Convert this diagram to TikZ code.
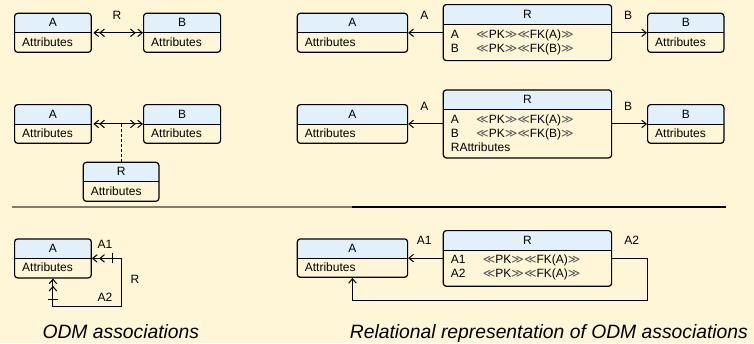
\documentclass[tikz,border=0pt]{standalone}
\usepackage{fontspec}
\setmainfont{Liberation Sans}
\newfontfamily\dvs{DejaVu Sans}
\usetikzlibrary{arrows.meta,calc}
\definecolor{bgc}{HTML}{FFF5D7}
\definecolor{hdc}{HTML}{E1F0FA}
\definecolor{sepg}{HTML}{807B6D}
\newcommand\lgg{{\dvs\color{black!65}\char"226A}}
\newcommand\rgg{{\dvs\color{black!65}\char"226B}}
\newcommand\pkfk[1]{\lgg PK\rgg\lgg FK(#1)\rgg}
\begin{document}
\begin{tikzpicture}[x=1pt,y=-1pt,
  box/.style={draw, line width=1.2pt, rounded corners=3pt, fill=bgc, inner sep=0pt,
    anchor=north west,
    path picture={\fill[hdc] ([yshift=-19.5pt]path picture bounding box.north west) rectangle (path picture bounding box.north east);
      \draw[line width=1.2pt] ([yshift=-19.5pt]path picture bounding box.north west) -- ([yshift=-19.5pt]path picture bounding box.north east);}},
  txt/.style={inner sep=0pt, font=\fontsize{12}{14}\selectfont, text height=8.6pt, text depth=0pt},
  bt/.style={txt, anchor=west},
  barb/.tip={Straight Barb[length=4.5pt,width=7.5pt,line width=1pt]},
  arr/.style={line width=1pt, -barb},
  dbl/.style={line width=1pt, {barb[sep=1.5pt]barb}-{barb[sep=1.5pt]barb}},
  selfa/.style={line width=1pt, -{Bar[width=10pt,sep=7pt]barb[sep=1.5pt]barb}},
  captxt/.style={inner sep=0pt, anchor=base, font=\fontsize{19.3}{22}\selectfont\itshape}
]
\fill[bgc] (0,0) rectangle (754,343);
\useasboundingbox (0,0) rectangle (754,343);

% ---------- left column ----------
% row 1
\node[box, minimum width=76.7pt, minimum height=39pt] (l1a) at (14,12.7) {};
\node[txt] at ([yshift=-9.75pt]l1a.north) {A};
\node[bt] at ([xshift=8pt,yshift=-29.3pt]l1a.north west) {Attributes};
\node[box, minimum width=77pt, minimum height=39pt] (l1b) at (143,12.7) {};
\node[txt] at ([yshift=-9.75pt]l1b.north) {B};
\node[bt] at ([xshift=8pt,yshift=-29.3pt]l1b.north west) {Attributes};
\draw[dbl] (l1a.east) -- (l1b.west);
\node[txt] (l1r) at (117,15) {R};

% row 2
\node[box, minimum width=76.7pt, minimum height=38.7pt] (l2a) at (14,104) {};
\node[txt] at ([yshift=-9.75pt]l2a.north) {A};
\node[bt] at ([xshift=8pt,yshift=-29.3pt]l2a.north west) {Attributes};
\node[box, minimum width=77pt, minimum height=38.7pt] (l2b) at (143,104) {};
\node[txt] at ([yshift=-9.75pt]l2b.north) {B};
\node[bt] at ([xshift=8pt,yshift=-29.3pt]l2b.north west) {Attributes};
\draw[dbl] (l2a.east) -- (l2b.west);
\node[box, minimum width=75.6pt, minimum height=39pt] (l2r) at (82.7,161.7) {};
\node[txt] at ([yshift=-9.75pt]l2r.north) {R};
\node[bt] at ([xshift=8pt,yshift=-29.3pt]l2r.north west) {Attributes};
\draw[line width=1pt, dash pattern=on 3pt off 2pt] (l2r.north) -- (l2r.north |- l2a.east);

% separator
\draw[line width=1.4pt, sepg] (11.5,207) -- (352,207);
\draw[line width=1.4pt] (352,207) -- (726,207);

% row 3
\node[box, minimum width=76.7pt, minimum height=39pt] (l3a) at (14,238.3) {};
\node[txt] at ([yshift=-9.75pt]l3a.north) {A};
\node[bt] at ([xshift=8pt,yshift=-29.3pt]l3a.north west) {Attributes};
\coordinate (l3m) at ($(l3a.south)+(34,27.7)$);
\draw[selfa] (l3m) -| (l3a.south);
\draw[selfa] (l3m) -| ($(l3a.east)+(30,0)$) -- (l3a.east);
\node[txt] at (105,244) {A1};
\node[txt] at (135,279) {R};
\node[txt] at (105,296.7) {A2};

\node[captxt] at (120.8,338.5) {ODM associations};

% ---------- right column ----------
% row 1
\node[box, minimum width=110.3pt, minimum height=39pt] (r1a) at (296.7,12.7) {};
\node[txt] at ([yshift=-9.75pt]r1a.north) {A};
\node[bt] at ([xshift=8pt,yshift=-29.3pt]r1a.north west) {Attributes};
\node[box, minimum width=168.3pt, minimum height=56pt] (r1r) at (442.7,4) {};
\node[txt] at ([yshift=-9.75pt]r1r.north) {R};
\node[bt] at ([xshift=8pt,yshift=-30pt]r1r.north west) {A};
\node[bt] at ([xshift=33.3pt,yshift=-30pt]r1r.north west) {\pkfk{A}};
\node[bt] at ([xshift=8pt,yshift=-43.9pt]r1r.north west) {B};
\node[bt] at ([xshift=33.3pt,yshift=-43.9pt]r1r.north west) {\pkfk{B}};
\node[box, minimum width=76.3pt, minimum height=39pt] (r1b) at (647,12.7) {};
\node[txt] at ([yshift=-9.75pt]r1b.north) {B};
\node[bt] at ([xshift=8pt,yshift=-29.3pt]r1b.north west) {Attributes};
\draw[arr] (r1r.west |- r1a.east) -- (r1a.east);
\draw[arr] (r1r.east |- r1b.west) -- (r1b.west);
\node[txt] at (424.3,15) {A};
\node[txt] at (628,15) {B};

% row 2
\node[box, minimum width=110.3pt, minimum height=38.7pt] (r2a) at (296.7,104) {};
\node[txt] at ([yshift=-9.75pt]r2a.north) {A};
\node[bt] at ([xshift=8pt,yshift=-29.3pt]r2a.north west) {Attributes};
\node[box, minimum width=168.3pt, minimum height=68pt] (r2r) at (442.7,89.3) {};
\node[txt] at ([yshift=-9.75pt]r2r.north) {R};
\node[bt] at ([xshift=8pt,yshift=-29.7pt]r2r.north west) {A};
\node[bt] at ([xshift=33.3pt,yshift=-29.7pt]r2r.north west) {\pkfk{A}};
\node[bt] at ([xshift=8pt,yshift=-44pt]r2r.north west) {B};
\node[bt] at ([xshift=33.3pt,yshift=-44pt]r2r.north west) {\pkfk{B}};
\node[bt] at ([xshift=8pt,yshift=-58.3pt]r2r.north west) {RAttributes};
\node[box, minimum width=76.3pt, minimum height=38.7pt] (r2b) at (647,104) {};
\node[txt] at ([yshift=-9.75pt]r2b.north) {B};
\node[bt] at ([xshift=8pt,yshift=-29.3pt]r2b.north west) {Attributes};
\draw[arr] (r2r.west |- r2a.east) -- (r2a.east);
\draw[arr] (r2r.east |- r2b.west) -- (r2b.west);
\node[txt] at (424.3,105.7) {A};
\node[txt] at (628,105.7) {B};

% row 3
\node[box, minimum width=110.3pt, minimum height=38.4pt] (r3a) at (296.7,238.3) {};
\node[txt] at ([yshift=-9.75pt]r3a.north) {A};
\node[bt] at ([xshift=8pt,yshift=-29.3pt]r3a.north west) {Attributes};
\node[box, minimum width=168.3pt, minimum height=55.7pt] (r3r) at (442.7,230) {};
\node[txt] at ([yshift=-9.75pt]r3r.north) {R};
\node[bt] at ([xshift=8pt,yshift=-29.3pt]r3r.north west) {A1};
\node[bt] at ([xshift=40pt,yshift=-29.3pt]r3r.north west) {\pkfk{A}};
\node[bt] at ([xshift=8pt,yshift=-43.3pt]r3r.north west) {A2};
\node[bt] at ([xshift=40pt,yshift=-43.3pt]r3r.north west) {\pkfk{A}};
\draw[arr] (r3r.west |- r3a.east) -- (r3a.east);
\draw[arr] (r3r.east |- r3a.east) -- ++(35.7,0) |- ($(r3a.south)+(0,22.6)$) -- (r3a.south);
\node[txt] at (424.3,240) {A1};
\node[txt] at (631.7,240) {A2};

\node[captxt] at (548.9,338.5) {Relational representation of ODM associations};
\end{tikzpicture}
\end{document}
